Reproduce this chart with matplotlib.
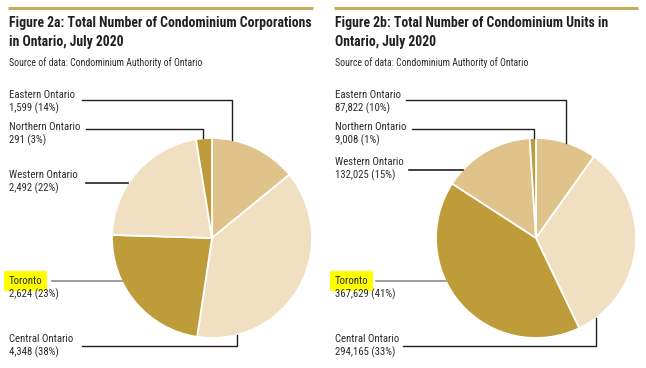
import matplotlib.pyplot as plt
import numpy as np

plt.rcParams['font.family'] = ['Roboto Condensed', 'Liberation Sans Narrow', 'DejaVu Sans']

W, H = 646, 368

regions = ['Eastern Ontario', 'Central Ontario', 'Toronto', 'Western Ontario', 'Northern Ontario']
corporations = [1599, 4348, 2624, 2492, 291]
units = [87822, 294165, 367629, 132025, 9008]

titles = ['Figure 2a: Total Number of Condominium Corporations\nin Ontario, July 2020',
          'Figure 2b: Total Number of Condominium Units in\nOntario, July 2020']
source = 'Source of data: Condominium Authority of Ontario'

LIGHT = '#f1dfc1'
MID = '#dfc38a'
DARK = '#bf9c3a'
colors_a = [MID, LIGHT, DARK, LIGHT, DARK]
colors_b = [MID, LIGHT, DARK, MID, DARK]

# layout per panel: left x, pie centre, leader lines (label top y, line y, elbow x or None)
panels = [
    dict(x0=8, x1=313, cx=212, cy=238, r=100, data=corporations, colors=colors_a, title=titles[0],
         leaders=[(90, 100, 232), (334, 346, 237), (276, 281, None), (170, 183, None), (122, 129, 203)],
         line_x0=[82, 82, 52, 86, 86]),
    dict(x0=334, x1=638, cx=536, cy=238, r=100, data=units, colors=colors_b, title=titles[1],
         leaders=[(90, 100, 566), (334, 346, 596), (276, 281, None), (157, 170, None), (122, 129, 534)],
         line_x0=[406, 403, 376, 409, 412]),
]

fig = plt.figure(figsize=(W / 100, H / 100), dpi=100)
ax = fig.add_axes([0, 0, 1, 1])
ax.set_xlim(0, W)
ax.set_ylim(0, H)
ax.set_aspect('equal')
ax.axis('off')
renderer = fig.canvas.get_renderer()


def Y(y):
    return H - y


def fit_size(text, size, target, **kw):
    # font size at which the first line of text is target pixels wide
    t = ax.text(0, 0, text.split('\n')[0], fontsize=size, **kw)
    w = t.get_window_extent(renderer).width
    t.remove()
    return size * target / w


title_size = fit_size(titles[0], 10.5, 304, fontweight='bold')
source_size = fit_size(source, 7, 195)
label_size = fit_size('Eastern Ontario', 8, 66)
ink = '#2b2b2b'

for p in panels:
    x0, cx, cy, r = p['x0'], p['cx'], p['cy'], p['r']
    ax.plot([x0, p['x1']], [Y(8), Y(8)], color='#c9ab5e', lw=2.2, solid_capstyle='butt')
    ax.text(x0 + 1, Y(16.5), p['title'], fontsize=title_size, fontweight='bold', color='#231f20',
            va='top', ha='left', linespacing=1.45)
    ax.text(x0 + 1, Y(57.5), source, fontsize=source_size, color=ink, va='top', ha='left')

    ax.pie(p['data'], colors=p['colors'], startangle=90, counterclock=False,
           center=(cx, Y(cy)), radius=r, frame=True,
           wedgeprops=dict(edgecolor='white', linewidth=1.3))

    total = sum(p['data'])
    for name, val, (ty, ly, ex), lx0 in zip(regions, p['data'], p['leaders'], p['line_x0']):
        pct = round(100 * val / total)
        if name == 'Toronto':
            ax.text(x0 + 1, Y(ty), name, fontsize=label_size, color=ink, va='top', ha='left',
                    bbox=dict(boxstyle='square,pad=0.42', fc='#ffff00', ec='none'))
            ax.text(x0 + 1, Y(ty + 12), f'{val:,} ({pct}%)', fontsize=label_size, color=ink,
                    va='top', ha='left')
            lc = '#8c8c8c'
        else:
            ax.text(x0 + 1, Y(ty), f'{name}\n{val:,} ({pct}%)', fontsize=label_size, color=ink,
                    va='top', ha='left', linespacing=1.25)
            lc = '#231f20'
        if ex is None:
            # horizontal line ending on the pie edge
            ex_edge = cx - np.sqrt(r ** 2 - (ly - cy) ** 2)
            ax.plot([lx0, ex_edge], [Y(ly), Y(ly)], color=lc, lw=1.2)
        else:
            dy = np.sqrt(r ** 2 - (ex - cx) ** 2)
            ey = cy - dy if ly < cy else cy + dy
            ax.plot([lx0, ex, ex], [Y(ly), Y(ly), Y(ey)], color=lc, lw=1.0)

ax.set_xlim(0, W)
ax.set_ylim(0, H)
fig.savefig('out.png', dpi=100)
